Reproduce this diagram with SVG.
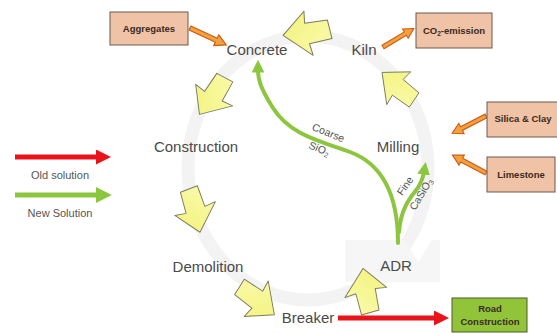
<svg xmlns="http://www.w3.org/2000/svg" xmlns:xlink="http://www.w3.org/1999/xlink" width="557" height="334" viewBox="0 0 557 334">
  <defs>
    <style>
      .node { font-family: "Liberation Sans", Arial, sans-serif; font-size: 15px; fill: #4a4a4a; text-anchor: middle; }
      .small { font-family: "Liberation Sans", Arial, sans-serif; font-size: 11px; fill: #555; text-anchor: middle; }
      .lbl { font-family: "Liberation Sans", Arial, sans-serif; font-size: 10.5px; fill: #555; text-anchor: middle; }
      .box { fill: #f0c2a6; stroke: #6a5a50; stroke-width: 1; }
      .boxtxt { font-family: "Liberation Sans", Arial, sans-serif; font-size: 9.5px; font-weight: bold; fill: #3a2a22; text-anchor: middle; }
      .yarrow { fill: url(#yellowGrad); stroke: #7a7a60; stroke-width: 1; stroke-linejoin: round; }
      .oarrow { fill: #f2a23a; stroke: #d05a1a; stroke-width: 1.2; }
      .green { fill: none; stroke: #8cc63f; stroke-width: 4; stroke-linecap: round; }
      .red { fill: none; stroke: #e8141a; stroke-width: 5; }
    </style>
    <linearGradient id="yellowGrad" x1="0" y1="0" x2="1" y2="1">
      <stop offset="0" stop-color="#fbfbb0"/>
      <stop offset="1" stop-color="#f2f27a"/>
    </linearGradient>
    <!-- chunky block arrow pointing to +x, centred on origin -->
    <polygon id="ya" points="-24,-9 -1,-11 -3,-23 24,1 0,22 1,10 -22,10"/>
    <!-- slim orange input arrow, length 40, pointing to +x -->
    <polygon id="oa" points="0,-2.2 29,-2.2 29,-6 40,0 29,6 29,2.2 0,2.2"/>
    <marker id="greenHead" viewBox="0 0 10 10" refX="2" refY="5" markerWidth="3.2" markerHeight="3.2" orient="auto" markerUnits="strokeWidth">
      <path d="M0,0 L10,5 L0,10 z" fill="#8cc63f"/>
    </marker>
    <marker id="redHead" viewBox="0 0 10 10" refX="2" refY="5" markerWidth="3.2" markerHeight="3" orient="auto" markerUnits="strokeWidth">
      <path d="M0,0 L10,5 L0,10 z" fill="#e8141a"/>
    </marker>
  </defs>

  <rect x="0" y="0" width="557" height="334" fill="#ffffff"/>

  <!-- faint grey cycle ring behind the process -->
  <g id="ring">
    <ellipse cx="308" cy="168" rx="120" ry="132" fill="none" stroke="#f3f3f3" stroke-width="13"/>
    <polygon points="345,240 405,240 418,262 432,240 440,240 440,282 345,282" fill="#f6f6f6"/>
  </g>

  <!-- yellow cycle arrows -->
  <g id="cycle-arrows">
    <use xlink:href="#ya" href="#ya" class="yarrow" transform="translate(213,96) rotate(124) scale(0.95)"/>
    <use xlink:href="#ya" href="#ya" class="yarrow" transform="translate(195,210) rotate(75) scale(0.95)"/>
    <use xlink:href="#ya" href="#ya" class="yarrow" transform="translate(257,300) rotate(38) scale(0.95)"/>
    <use xlink:href="#ya" href="#ya" class="yarrow" transform="translate(366,291) rotate(-100) scale(0.95)"/>
    <use xlink:href="#ya" href="#ya" class="yarrow" transform="translate(398,87) rotate(-140) scale(0.9)"/>
    <use xlink:href="#ya" href="#ya" class="yarrow" transform="translate(307,33) rotate(172) scale(1)"/>
  </g>

  <!-- connectors -->
  <g id="connectors">
    <!-- new solution: ADR back to Concrete and Milling -->
    <path class="green" d="M398,243 C398,200 385,165 350,152 C320,141 290,135 273,108 C263,92 258,82 258,70" marker-end="url(#greenHead)"/>
    <path class="green" d="M399,232 C401,207 411,197 417,189 C421,183 423,178 424,172" marker-end="url(#greenHead)"/>
    <!-- old solution: Breaker to road construction -->
    <path class="red" d="M338,318 L437,318" stroke-width="6" marker-end="url(#redHead)"/>
    <!-- raw material inputs and emissions -->
    <use xlink:href="#oa" href="#oa" class="oarrow" transform="translate(190,28) rotate(25)"/>
    <use xlink:href="#oa" href="#oa" class="oarrow" transform="translate(383,47) rotate(-31) scale(0.9)"/>
    <use xlink:href="#oa" href="#oa" class="oarrow" transform="translate(486,116) rotate(153) scale(0.95)"/>
    <use xlink:href="#oa" href="#oa" class="oarrow" transform="translate(486,173) rotate(208) scale(0.95)"/>
  </g>

  <!-- connector labels -->
  <g id="labels">
    <text class="lbl" transform="translate(327,136) rotate(22)">Coarse</text>
    <text class="lbl" transform="translate(318,152) rotate(22)">SiO<tspan font-size="7" dy="2">2</tspan></text>
    <text class="lbl" transform="translate(408,188) rotate(-55)">Fine</text>
    <text class="lbl" transform="translate(424,196) rotate(-60)">CaSiO<tspan font-size="7" dy="2">3</tspan></text>
  </g>

  <!-- process nodes -->
  <g id="concrete"><text class="node" x="257" y="55">Concrete</text></g>
  <g id="kiln"><text class="node" x="364" y="55">Kiln</text></g>
  <g id="milling"><text class="node" x="398" y="152">Milling</text></g>
  <g id="adr"><text class="node" x="396" y="271">ADR</text></g>
  <g id="breaker"><text class="node" x="308" y="323">Breaker</text></g>
  <g id="demolition"><text class="node" x="208" y="272">Demolition</text></g>
  <g id="construction"><text class="node" x="196" y="152">Construction</text></g>

  <!-- input / output boxes -->
  <g id="aggregates">
    <rect class="box" x="110" y="12" width="78" height="33"/>
    <text class="boxtxt" x="149" y="32">Aggregates</text>
  </g>
  <g id="co2">
    <rect class="box" x="416" y="13" width="76" height="35"/>
    <text class="boxtxt" x="454" y="34">CO<tspan font-size="6.5" dy="2">2</tspan><tspan dy="-2">-emission</tspan></text>
  </g>
  <g id="silica-clay">
    <rect class="box" x="487" y="102" width="75" height="35"/>
    <text class="boxtxt" x="523" y="122">Silica &amp; Clay</text>
  </g>
  <g id="limestone">
    <rect class="box" x="487" y="157" width="68" height="35"/>
    <text class="boxtxt" x="521" y="178">Limestone</text>
  </g>
  <g id="road-construction">
    <rect x="452" y="298" width="75" height="34" fill="#92c43a" stroke="#4a5a2a" stroke-width="1"/>
    <text class="boxtxt" x="490" y="312" fill="#2a3a10" font-size="9">Road</text>
    <text class="boxtxt" x="490" y="325" fill="#2a3a10" font-size="9">Construction</text>
  </g>

  <!-- legend -->
  <g id="legend">
    <path class="red" d="M15,157 L99,157" marker-end="url(#redHead)"/>
    <text class="small" x="60" y="179">Old solution</text>
    <path d="M15,195 L99,195" fill="none" stroke="#8cc63f" stroke-width="5" marker-end="url(#greenHead)"/>
    <text class="small" x="60" y="217">New Solution</text>
  </g>
</svg>
